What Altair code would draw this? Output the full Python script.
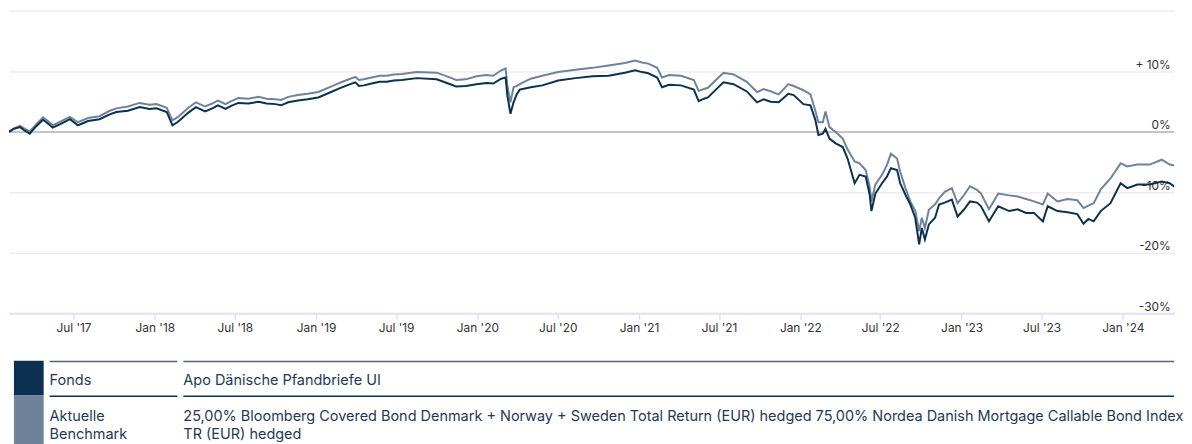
import altair as alt
import pandas as pd

# ---------------- data ----------------
dates = [
    "2017-02-05", "2017-02-16", "2017-03-02", "2017-03-13", "2017-03-24", "2017-04-07", "2017-04-23",
    "2017-05-04", "2017-05-15", "2017-06-01", "2017-06-23", "2017-07-11", "2017-08-03", "2017-08-29",
    "2017-09-21", "2017-10-06", "2017-11-01", "2017-11-28", "2017-12-20", "2018-01-05", "2018-01-28",
    "2018-02-10", "2018-02-21", "2018-03-01", "2018-03-18", "2018-04-04", "2018-04-25", "2018-05-11",
    "2018-05-24", "2018-06-10", "2018-06-23", "2018-07-09", "2018-08-01", "2018-08-24", "2018-09-11",
    "2018-10-01", "2018-10-14", "2018-10-30", "2018-11-21", "2018-12-13", "2019-01-06", "2019-02-04",
    "2019-02-23", "2019-03-12", "2019-03-31", "2019-04-08", "2019-04-19", "2019-05-07", "2019-05-25",
    "2019-06-10", "2019-06-26", "2019-07-14", "2019-08-17", "2019-10-01", "2019-11-04", "2019-11-14",
    "2019-12-06", "2019-12-30", "2020-01-21", "2020-02-06", "2020-02-24", "2020-03-05", "2020-03-09",
    "2020-03-16", "2020-03-23", "2020-03-30", "2020-04-06", "2020-05-01", "2020-05-27", "2020-07-02",
    "2020-08-10", "2020-09-18", "2020-10-24", "2020-11-30", "2020-12-23", "2021-01-08", "2021-01-22",
    "2021-02-11", "2021-02-22", "2021-03-10", "2021-04-06", "2021-05-05", "2021-05-16", "2021-05-28",
    "2021-06-06", "2021-06-24", "2021-07-11", "2021-08-03", "2021-09-02", "2021-09-25", "2021-10-10",
    "2021-10-26", "2021-11-13", "2021-12-05", "2021-12-17", "2022-01-08", "2022-01-24", "2022-02-04",
    "2022-02-11", "2022-02-21", "2022-02-27", "2022-03-08", "2022-03-22", "2022-04-07", "2022-04-18",
    "2022-05-04", "2022-05-15", "2022-05-29", "2022-06-07", "2022-06-11", "2022-06-20", "2022-07-05",
    "2022-07-16", "2022-07-25", "2022-08-08", "2022-08-15", "2022-08-27", "2022-09-07", "2022-09-18",
    "2022-09-27", "2022-10-03", "2022-10-10", "2022-10-19", "2022-11-02", "2022-11-11", "2022-11-24",
    "2022-12-10", "2022-12-23", "2023-01-07", "2023-01-20", "2023-02-05", "2023-02-14", "2023-03-04",
    "2023-03-25", "2023-04-19", "2023-05-08", "2023-05-27", "2023-06-14", "2023-07-04", "2023-07-15",
    "2023-08-06", "2023-08-29", "2023-09-20", "2023-10-04", "2023-10-15", "2023-10-27", "2023-11-12",
    "2023-12-04", "2023-12-27", "2024-01-11", "2024-02-03", "2024-03-02", "2024-03-29", "2024-04-16",
    "2024-05-02",
]

fonds = [
    0.0, 0.5, 0.8, 0.2, -0.3, 0.9, 2.0,
    1.4, 0.7, 1.3, 2.1, 1.1, 1.8, 2.1,
    2.9, 3.3, 3.5, 4.1, 3.8, 3.9, 3.3,
    1.1, 1.6, 2.1, 3.2, 4.1, 3.4, 3.9,
    4.4, 3.8, 4.3, 4.8, 4.7, 5.0, 4.7,
    4.6, 4.4, 4.9, 5.2, 5.4, 5.7, 6.6,
    7.2, 7.7, 8.2, 7.6, 7.7, 8.0, 8.3,
    8.3, 8.5, 8.6, 8.9, 8.7, 7.8, 7.5,
    7.6, 7.9, 8.1, 8.0, 8.8, 9.0, 6.0,
    3.0, 4.9, 6.2, 7.0, 7.4, 7.7, 8.5,
    8.9, 9.2, 9.3, 9.8, 10.2, 9.9, 9.7,
    9.0, 7.4, 7.8, 7.7, 7.0, 5.1, 5.5,
    5.7, 7.0, 8.2, 7.9, 6.7, 4.9, 5.4,
    5.0, 4.9, 6.3, 6.1, 4.6, 4.4, 2.0,
    -0.5, -0.3, 0.5, -1.1, -1.9, -2.5, -4.4,
    -8.5, -7.1, -7.4, -10.4, -13.1, -10.2, -8.5,
    -7.4, -6.0, -6.3, -8.5, -10.4, -12.0, -14.2,
    -18.6, -15.9, -17.8, -15.3, -14.2, -12.0, -11.7,
    -11.2, -14.0, -12.8, -11.5, -11.7, -12.3, -14.8,
    -12.3, -13.1, -12.8, -13.4, -13.4, -14.8, -12.3,
    -13.1, -13.3, -13.6, -15.2, -14.4, -14.8, -13.1,
    -11.8, -8.5, -9.3, -8.7, -8.7, -8.2, -8.5,
    -9.3,
]

benchmark = [
    0.0, 0.6, 1.0, 0.5, 0.1, 1.2, 2.4,
    1.8, 1.1, 1.7, 2.5, 1.6, 2.3, 2.6,
    3.5, 3.9, 4.2, 4.8, 4.5, 4.6, 4.0,
    1.9, 2.4, 2.9, 4.0, 4.9, 4.2, 4.7,
    5.2, 4.6, 5.1, 5.6, 5.5, 5.8, 5.5,
    5.4, 5.3, 5.8, 6.1, 6.3, 6.6, 7.5,
    8.1, 8.6, 9.1, 8.6, 8.7, 9.0, 9.3,
    9.3, 9.5, 9.6, 9.9, 9.8, 8.9, 8.6,
    8.7, 9.2, 9.4, 9.3, 10.2, 10.5, 7.7,
    4.9, 7.4, 7.6, 7.9, 8.8, 9.3, 9.9,
    10.3, 10.6, 11.0, 11.4, 11.8, 11.5, 11.3,
    10.6, 9.0, 9.4, 9.3, 8.6, 6.8, 7.1,
    7.3, 8.6, 9.8, 9.5, 8.3, 6.6, 7.1,
    6.7, 6.2, 7.9, 7.6, 6.9, 6.2, 3.5,
    1.6, 1.6, 3.4, 0.8, 0.0, -1.1, -2.9,
    -4.9, -5.2, -6.3, -9.0, -11.5, -8.7, -7.1,
    -5.5, -3.6, -4.4, -6.6, -9.3, -11.5, -13.0,
    -16.4, -14.2, -15.9, -12.9, -12.0, -11.0, -9.9,
    -9.3, -11.8, -10.4, -9.0, -9.6, -10.2, -12.8,
    -10.2, -10.5, -10.7, -11.1, -11.5, -12.0, -10.2,
    -11.5, -11.1, -11.3, -12.6, -12.2, -11.8, -9.5,
    -7.7, -5.2, -5.7, -5.4, -5.4, -4.6, -5.4,
    -5.6,
]

series_names = ["Fonds", "Aktuelle Benchmark"]
series_colors = ["#0b3050", "#6e8399"]

table_labels = ["Fonds", "Aktuelle\nBenchmark"]
table_desc = [
    "Apo Dänische Pfandbriefe UI",
    "25,00% Bloomberg Covered Bond Denmark + Norway + Sweden Total Return (EUR) hedged 75,00% "
    "Nordea Danish Mortgage Callable Bond Index\nTR (EUR) hedged",
]

y_label_ticks = [-30, -20, -10, 0, 10]
y_top_grid = [20]
x_tick_months = [(2017, 7), (2018, 1), (2018, 7), (2019, 1), (2019, 7), (2020, 1), (2020, 7),
                 (2021, 1), (2021, 7), (2022, 1), (2022, 7), (2023, 1), (2023, 7), (2024, 1)]
x_start = (2017, 2, 5)
x_end = (2024, 4, 26)

FONT = "Inter"
W = 1176
H = 305

df = pd.DataFrame({
    "date": dates + dates,
    "value": fonds + benchmark,
    "series": [series_names[0]] * len(dates) + [series_names[1]] * len(dates),
})

xscale = alt.Scale(
    type="utc",
    domain=[alt.DateTime(year=x_start[0], month=x_start[1], date=x_start[2], utc=True),
            alt.DateTime(year=x_end[0], month=x_end[1], date=x_end[2], utc=True)],
)
yscale = alt.Scale(domain=[-30, 20], nice=False, zero=False)
cscale = alt.Scale(domain=series_names, range=series_colors)

x_axis = alt.Axis(
    values=[alt.DateTime(year=y, month=m, date=1, utc=True) for y, m in x_tick_months],
    format="%b '%y",
    grid=False,
    domainColor="#dde2f3",
    domainWidth=2,
    tickColor="#dde2f3",
    tickWidth=1.5,
    tickSize=6,
    labelFont=FONT,
    labelFontSize=12,
    labelColor="#333333",
    labelPadding=3,
    title=None,
)
y_axis = alt.Axis(
    orient="right",
    values=y_label_ticks,
    labelExpr="datum.value > 0 ? '+ ' + datum.value + '%' : datum.value + '%'",
    grid=True,
    gridColor="#e6e6e6",
    gridWidth=1,
    domain=False,
    ticks=False,
    labelAlign="right",
    labelBaseline="alphabetic",
    labelPadding=-4,
    labelOffset=-3,
    labelFont=FONT,
    labelFontSize=12,
    labelColor="#333333",
    title=None,
)

top_grid = alt.Chart(pd.DataFrame({"v": y_top_grid})).mark_rule(
    color="#e6e6e6", strokeWidth=1
).encode(y=alt.Y("v:Q", scale=yscale, axis=y_axis))

zero_line = alt.Chart(pd.DataFrame({"v": [0]})).mark_rule(
    color="#c4c4c4", strokeWidth=2
).encode(y=alt.Y("v:Q", scale=yscale, axis=y_axis))


def series_line(name):
    return alt.Chart(df).transform_filter(
        alt.datum.series == name
    ).mark_line(strokeWidth=2, clip=True).encode(
        x=alt.X("date:T", scale=xscale, axis=x_axis),
        y=alt.Y("value:Q", scale=yscale, axis=y_axis),
        color=alt.Color("series:N", scale=cscale, legend=None),
    )


main = alt.layer(
    top_grid, zero_line, series_line(series_names[1]), series_line(series_names[0])
).properties(width=W, height=H)

# ---------------- legend table ----------------
row_tops = [0, 35]
row_bottoms = [35, 90]
line_colors = ["#4f6680", "#0b3050"]
TEXT_COLOR = "#223a58"
TEXT_SIZE = 14.6
table_layers = []
for i in range(len(series_names)):
    one = alt.Chart(pd.DataFrame({"label": [table_labels[i]], "desc": [table_desc[i]]}))
    table_layers.append(one.mark_rect(color=series_colors[i]).encode(
        x=alt.value(5), x2=alt.value(35), y=alt.value(row_tops[i]), y2=alt.value(row_bottoms[i])))
    table_layers.append(one.mark_rule(color=line_colors[i], strokeWidth=1.5).encode(
        x=alt.value(41), x2=alt.value(170), y=alt.value(row_tops[i] + 0.75)))
    table_layers.append(one.mark_rule(color=line_colors[i], strokeWidth=1.5).encode(
        x=alt.value(176), x2=alt.value(W), y=alt.value(row_tops[i] + 0.75)))
    base_y = 20 if i == 0 else row_tops[i] + 14
    baseline = "middle" if i == 0 else "top"
    table_layers.append(one.mark_text(
        align="left", baseline=baseline, font=FONT, fontSize=TEXT_SIZE, color=TEXT_COLOR,
        lineBreak="\n", lineHeight=18,
    ).encode(x=alt.value(41), y=alt.value(base_y), text="label:N"))
    table_layers.append(one.mark_text(
        align="left", baseline=baseline, font=FONT, fontSize=TEXT_SIZE, color=TEXT_COLOR,
        lineBreak="\n", lineHeight=18,
    ).encode(x=alt.value(176), y=alt.value(base_y), text="desc:N"))

table = alt.layer(*table_layers).properties(width=W, height=83)

chart = alt.vconcat(main, table, spacing=28).properties(
    padding=0, background="white"
).configure(
    font=FONT, padding=0, view=alt.ViewConfig(stroke=None)
)

chart.save("out.html", embed_options={"renderer": "svg", "actions": False})
